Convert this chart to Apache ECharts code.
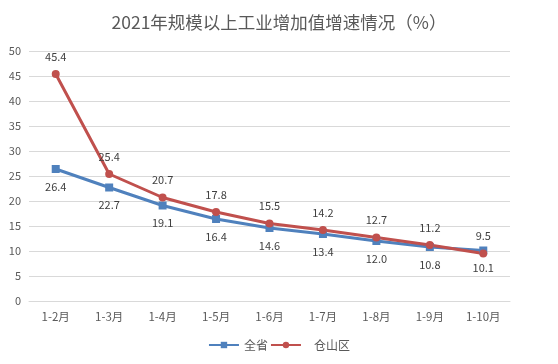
<!DOCTYPE html>
<html><head><meta charset="utf-8">
<script src="https://cdn.jsdelivr.net/npm/echarts@6/dist/echarts.min.js"></script>
<style>html,body{margin:0;padding:0;background:#fff}#c{width:558px;height:364px}</style>
</head><body><div id="c"></div>
<script>
var categories = ['1-2月','1-3月','1-4月','1-5月','1-6月','1-7月','1-8月','1-9月','1-10月'];
var province = [26.4, 22.7, 19.1, 16.4, 14.6, 13.4, 12.0, 10.8, 10.1];
var cangshan = [45.4, 25.4, 20.7, 17.8, 15.5, 14.2, 12.7, 11.2, 9.5];
var yTicks = [0,5,10,15,20,25,30,35,40,45,50];
var chart = echarts.init(document.getElementById('c'));
var font = '"Microsoft YaHei","Noto Sans CJK SC",sans-serif';
chart.setOption({
  animation: false,
  title: { text: '2021年规模以上工业增加值增速情况（%）', left: 'center', top: 9,
    textStyle: { fontSize: 17.5, fontWeight: 'normal', color: '#595959', fontFamily: font } },
  legend: { bottom: 8, itemGap: 2, itemWidth: 30, itemHeight: 8,
    textStyle: { fontSize: 12, color: '#595959', fontFamily: font },
    formatter: function(n){ return n === '仓山区' ? '   ' + n : n; },
    data: ['全省','仓山区'] },
  grid: { left: 29, right: 48, top: 51, bottom: 63 },
  xAxis: { type: 'category', data: categories, boundaryGap: true,
    axisLine: { lineStyle: { color: '#d9d9d9' } }, axisTick: { show: false },
    axisLabel: { fontSize: 11.5, color: '#595959', fontFamily: font, margin: 10 } },
  yAxis: { type: 'value', min: yTicks[0], max: yTicks[yTicks.length-1], interval: 5,
    axisLine: { show: false }, axisTick: { show: false },
    splitLine: { lineStyle: { color: '#d9d9d9' } },
    axisLabel: { fontSize: 11, color: '#595959', fontFamily: font, margin: 8 } },
  series: [
    { name: '全省', type: 'line', data: province, symbol: 'rect', symbolSize: 8,
      lineStyle: { width: 3, color: '#4f81bd' }, itemStyle: { color: '#4f81bd' },
      label: { show: true, position: 'bottom', distance: 8, fontSize: 11, color: '#404040', fontFamily: font,
        formatter: function(p){ return p.value.toFixed(1); } } },
    { name: '仓山区', type: 'line', data: cangshan, symbol: 'circle', symbolSize: 8,
      lineStyle: { width: 3, color: '#c0504d' }, itemStyle: { color: '#c0504d' },
      label: { show: true, position: 'top', distance: 8, fontSize: 11, color: '#404040', fontFamily: font,
        formatter: function(p){ return p.value.toFixed(1); } } }
  ]
});
</script></body></html>
